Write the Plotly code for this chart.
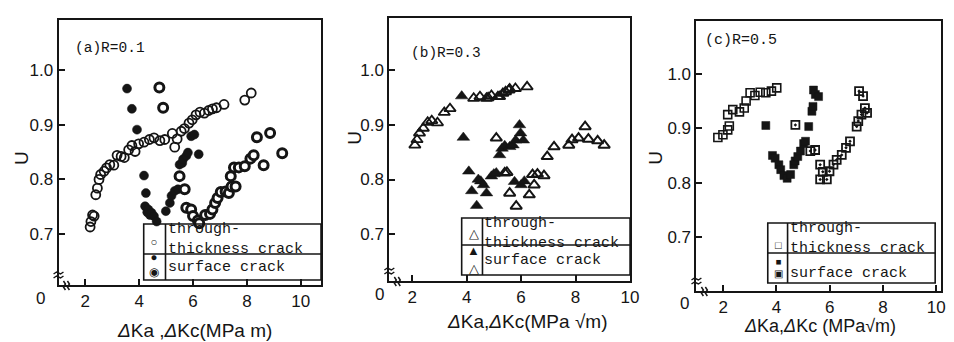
import plotly.graph_objects as go

# ---------------- data ----------------
# (a) R=0.1
a_thr_x = [2.18, 2.21, 2.27, 2.33, 2.39, 2.45, 2.51, 2.57, 2.70, 2.79, 2.91, 3.06, 3.18, 3.33, 3.45, 3.61, 3.73,
           3.85, 3.98, 4.18, 4.38, 4.55, 4.77, 4.95, 5.23, 5.32, 5.41, 5.56, 5.68, 5.85, 5.97, 6.11, 6.26, 6.42,
           6.58, 6.72, 6.87, 7.15, 7.92, 8.16]
a_thr_y = [0.713, 0.723, 0.735, 0.733, 0.772, 0.784, 0.800, 0.809, 0.815, 0.821, 0.827, 0.826, 0.844, 0.842, 0.840,
           0.854, 0.862, 0.851, 0.865, 0.868, 0.873, 0.876, 0.871, 0.873, 0.884, 0.859, 0.874, 0.888, 0.893, 0.903,
           0.909, 0.918, 0.923, 0.921, 0.926, 0.929, 0.931, 0.937, 0.945, 0.958]
a_s1_x = [3.55, 3.73, 3.92, 4.18, 4.25, 4.22, 4.30, 4.34, 4.40, 4.46, 4.55, 4.65, 4.99, 5.14, 5.20, 5.32, 5.44,
          5.50, 5.60, 5.63, 5.75, 5.81, 5.93, 6.05, 6.21]
a_s1_y = [0.966, 0.929, 0.891, 0.807, 0.775, 0.751, 0.740, 0.745, 0.735, 0.739, 0.733, 0.723, 0.742, 0.757, 0.770,
          0.779, 0.782, 0.827, 0.830, 0.837, 0.843, 0.849, 0.879, 0.882, 0.846]
a_s2_x = [4.75, 4.89, 5.50, 5.69, 5.75, 5.93, 6.00, 6.18, 6.23, 6.45, 6.63, 6.72, 6.82, 6.91, 7.03, 7.21, 7.33,
          7.43, 7.58, 7.40, 7.52, 7.70, 7.92, 8.13, 8.25, 8.62, 8.37, 8.86, 9.31]
a_s2_y = [0.968, 0.931, 0.806, 0.782, 0.748, 0.745, 0.733, 0.725, 0.720, 0.735, 0.737, 0.745, 0.757, 0.766, 0.777,
          0.778, 0.775, 0.787, 0.787, 0.806, 0.822, 0.822, 0.824, 0.838, 0.844, 0.826, 0.877, 0.885, 0.848]

# (b) R=0.3
b_thr_x = [2.10, 2.18, 2.27, 2.41, 2.57, 2.72, 2.93, 3.18, 3.39, 4.26, 4.49, 4.73, 4.79, 4.91, 5.15, 5.21, 5.33,
           5.43, 5.55, 5.58, 5.79, 6.22]
b_thr_y = [0.863, 0.873, 0.885, 0.894, 0.905, 0.908, 0.904, 0.923, 0.930, 0.949, 0.952, 0.949, 0.950, 0.954, 0.952,
           0.952, 0.958, 0.961, 0.964, 0.966, 0.967, 0.970]
b_s1_x = [3.82, 3.88, 4.08, 4.19, 4.37, 4.43, 4.52, 4.62, 4.73, 4.91, 5.00, 5.09, 5.21, 5.30, 5.40, 5.58, 5.70,
          5.80, 5.94, 5.98, 6.08, 5.76, 6.00, 6.12]
b_s1_y = [0.953, 0.877, 0.815, 0.779, 0.752, 0.800, 0.797, 0.790, 0.775, 0.806, 0.810, 0.812, 0.845, 0.857, 0.862,
          0.860, 0.863, 0.872, 0.900, 0.885, 0.872, 0.796, 0.790, 0.797]
b_s2_x = [5.09, 5.48, 5.40, 5.58, 5.82, 6.30, 6.42, 6.48, 6.60, 6.84, 6.96, 7.21, 7.75, 7.87, 8.11, 8.35, 8.47,
          8.81, 9.05]
b_s2_y = [0.876, 0.813, 0.812, 0.775, 0.751, 0.772, 0.809, 0.790, 0.810, 0.807, 0.842, 0.860, 0.863, 0.873, 0.876,
          0.897, 0.874, 0.871, 0.863]

# (c) R=0.5
c_thr_x = [1.80, 1.99, 2.17, 2.23, 2.17, 2.36, 2.61, 2.79, 2.86, 3.01, 3.19, 3.39, 3.60, 3.81, 4.01]
c_thr_y = [0.883, 0.888, 0.897, 0.904, 0.925, 0.934, 0.930, 0.937, 0.950, 0.965, 0.960, 0.966, 0.965, 0.968, 0.974]
c_s1_x = [3.60, 3.85, 3.95, 4.09, 4.16, 4.28, 4.40, 4.53, 4.65, 4.70, 4.80, 4.90, 5.02, 5.09, 5.21, 5.33, 5.37,
          5.39, 5.46, 5.58]
c_s1_y = [0.905, 0.850, 0.845, 0.833, 0.824, 0.813, 0.808, 0.815, 0.833, 0.840, 0.848, 0.858, 0.872, 0.876, 0.903,
          0.931, 0.940, 0.970, 0.962, 0.958]
c_s2_x = [4.71, 5.27, 5.45, 5.64, 5.74, 5.64, 5.89, 5.99, 6.14, 6.26, 6.45, 6.61, 6.76, 7.01, 7.07, 7.19, 7.32,
          7.40, 7.10, 7.25]
c_s2_y = [0.906, 0.858, 0.860, 0.833, 0.820, 0.806, 0.806, 0.821, 0.833, 0.842, 0.851, 0.864, 0.876, 0.903, 0.913,
          0.925, 0.937, 0.928, 0.968, 0.959]

y_ticks = [0.7, 0.8, 0.9, 1.0]
y_labels = ["0.7", "0.8", "0.9", "1.0"]
x_ticks = [2, 4, 6, 8, 10]
x_labels = ["2", "4", "6", "8", "10"]
panel_titles = ["(a)R=0.1", "(b)R=0.3", "(c)R=0.5"]
x_titles = ["<i>Δ</i>Ka ,<i>Δ</i>Kc(MPa m)", "<i>Δ</i>Ka,<i>Δ</i>Kc(MPa √m)", "<i>Δ</i>Ka,<i>Δ</i>Kc (MPa√m)"]
legend_through = "through-<br>thickness crack"
legend_surface = "surface crack"

# ---------------- layout helpers ----------------
W, H = 954, 342
def px(x):
    return x / W
def py(y):
    return 1 - y / H

INK = "#151515"
SANS = "Liberation Sans, Arial, sans-serif"
MONO = "Liberation Mono, Courier New, monospace"

fig = go.Figure()

def add(xs, ys, axis, symbol, size, color, lw, lcolor=INK):
    fig.add_trace(go.Scatter(
        x=xs, y=ys, mode="markers", xaxis="x" + axis, yaxis="y" + axis, showlegend=False,
        marker=dict(symbol=symbol, size=size, color=color, line=dict(width=lw, color=lcolor))))

# panel a
add(a_thr_x, a_thr_y, "", "circle-open", 9, INK, 1.8)
add(a_s1_x, a_s1_y, "", "circle", 9, INK, 0.5)
add(a_s2_x, a_s2_y, "", "circle", 9, "white", 3.0)
# panel b
add(b_thr_x, b_thr_y, "2", "triangle-up-open", 10, INK, 1.8)
add(b_s1_x, b_s1_y, "2", "triangle-up", 11, INK, 0.5)
add(b_s2_x, b_s2_y, "2", "triangle-up-open", 10, INK, 2.0)
# panel c
add(c_thr_x, c_thr_y, "3", "square-open", 8, INK, 1.6)
add(c_s1_x, c_s1_y, "3", "square", 8, INK, 0.5)
add(c_s2_x, c_s2_y, "3", "square-open-dot", 8, INK, 1.8)

# pixel geometry of the three frames: (left, right, top, bottom), x range, y range
frames = [
    (51, 316, 12, 277, [1.007, 10.75], [0.607, 1.0914]),
    (385, 628, 10, 273, [1.164, 10.001], [0.6138, 1.0963]),
    (695, 942, 13, 283, [0.996, 10.18], [0.6013, 1.0967]),
]

axis_common = dict(showline=True, mirror=True, linecolor=INK, linewidth=2, ticks="inside", ticklen=6,
                   tickwidth=1.5, tickcolor=INK, showgrid=False, zeroline=False,
                   tickfont=dict(family=SANS, size=17, color=INK))
layout = {}
for i, (l, r, t, b, xr, yr) in enumerate(frames):
    suf = "" if i == 0 else str(i + 1)
    layout["xaxis" + suf] = dict(axis_common, domain=[px(l), px(r)], range=xr, anchor="y" + suf,
                                 tickvals=x_ticks, ticktext=x_labels)
    layout["yaxis" + suf] = dict(axis_common, domain=[py(b), py(t)], range=yr, anchor="x" + suf,
                                 tickvals=y_ticks, ticktext=y_labels)

fig.update_layout(width=W, height=H, margin=dict(l=0, r=0, t=0, b=0),
                  paper_bgcolor="white", plot_bgcolor="white", **layout)

ann = []
shapes = []
def text(x, y, s, size, font=SANS, xanchor="center", angle=0, align="left"):
    ann.append(dict(x=px(x), y=py(y), xref="paper", yref="paper", text=s, showarrow=False,
                    xanchor=xanchor, yanchor="middle", textangle=angle, align=align,
                    font=dict(family=font, size=size, color=INK)))

def line(x0, y0, x1, y1, w=1.6):
    shapes.append(dict(type="line", xref="paper", yref="paper", x0=px(x0), y0=py(y0), x1=px(x1), y1=py(y1),
                       line=dict(color=INK, width=w), layer="above"))

def rect(x0, y0, x1, y1):
    shapes.append(dict(type="rect", xref="paper", yref="paper", x0=px(x0), y0=py(y0), x1=px(x1), y1=py(y1),
                       line=dict(color=INK, width=1.6), fillcolor="rgba(0,0,0,0)", layer="above"))

def wave(pts):
    d = "M " + " L ".join(f"{px(x):.5f},{py(y):.5f}" for x, y in pts)
    shapes.append(dict(type="path", xref="paper", yref="paper", path=d, line=dict(color=INK, width=1.5),
                       layer="above"))

# axis titles, "U", "0", panel labels
title_pos = [(188, 322, 19), (524, 313, 19), (820, 318, 18)]
u_pos = [(13, 150), (350, 130), (653, 150)]
zero_pos = [(33, 290), (375, 286), (683, 295)]
label_pos = [(66, 40, 14.5), (405, 45, 14.5), (702, 33, 15)]
for i in range(3):
    tx, ty, ts = title_pos[i]
    text(tx, ty, x_titles[i], ts)
    text(*u_pos[i], "U", 19, angle=-90)
    text(*zero_pos[i], "0", 17)
    lx, ly, ls = label_pos[i]
    text(lx, ly, panel_titles[i], ls, font=MONO, xanchor="left")
    # axis break marks
    l, r, t, b = frames[i][:4]
    for dy in (-12, -8):
        wave([(l - 5, b + dy + 1), (l - 2, b + dy - 1), (l + 2, b + dy + 1), (l + 5, b + dy - 1)])
    for dx in (6, 10):
        wave([(l + dx - 1, b - 4), (l + dx + 1, b - 1), (l + dx - 1, b + 2), (l + dx + 1, b + 5)])

# legend boxes
rect(137, 216, 316, 272); line(159, 216, 159, 272); line(137, 246, 316, 246)
text(159, 231, legend_through, 15, MONO, "left")
text(159, 259, legend_surface, 15, MONO, "left")
text(147, 249, "○<br>●<br>◉", 11.5, align="center")

rect(458, 210, 628, 267); line(479, 210, 479, 267); line(458, 237, 628, 237)
text(479, 225, legend_through, 15, MONO, "left")
text(479, 252, legend_surface, 15, MONO, "left")
text(470, 225, "△", 13); text(470, 242, "▲", 13); text(470, 260, "△", 13)

rect(767, 215, 936, 275); line(787, 215, 787, 275); line(767, 245, 936, 245)
text(787, 230, legend_through, 15, MONO, "left")
text(787, 265, legend_surface, 15, MONO, "left")
text(778, 237, "□", 11)
text(778, 259, "■<br>▣", 9.5, align="center")

fig.update_layout(annotations=ann, shapes=shapes)
fig.write_html("out.html")
